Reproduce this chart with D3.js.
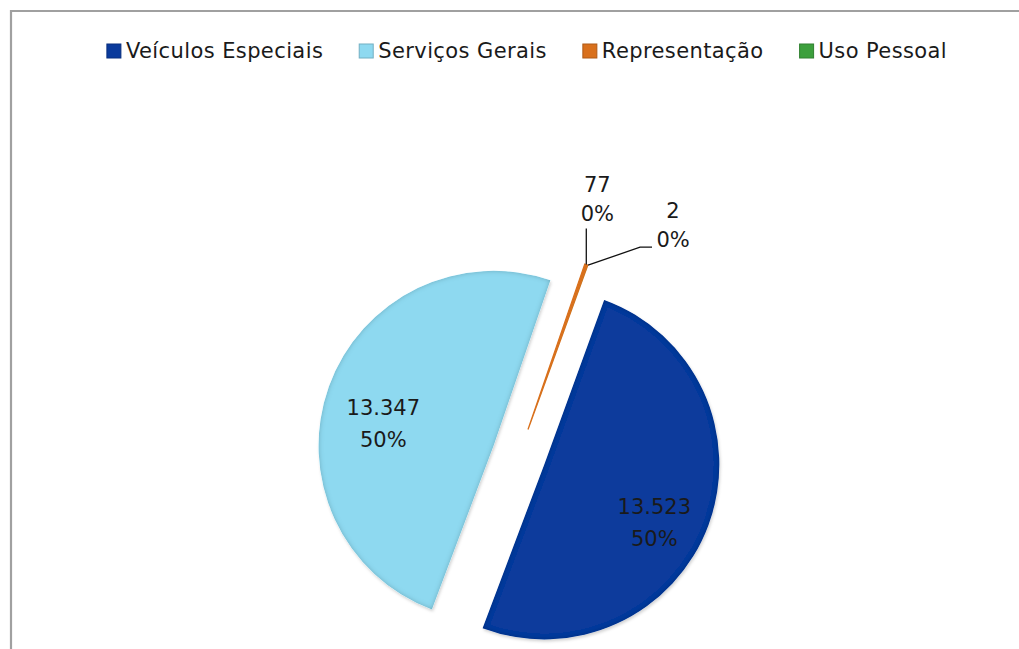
<!DOCTYPE html>
<html>
<head>
<meta charset="utf-8">
<script src="https://cdn.jsdelivr.net/npm/d3@7"></script>
<style>
  html, body { margin: 0; padding: 0; background: #fff; }
  svg { display: block; }
</style>
</head>
<body>
<svg id="chart" width="1019" height="649"></svg>
<script>
// ---- data ----
const categories = ["Veículos Especiais", "Serviços Gerais", "Representação", "Uso Pessoal"];
const values = [13523, 13347, 77, 2];
const colors = ["#0a3a9c", "#8ed9f0", "#d9701c", "#3c9f3c"];

// ---- layout ----
const W = 1019, H = 649;
const cx = 519, cy = 455, R = 175, explode = 27;
const startAngle = 20 * Math.PI / 180;
const fontFamily = "'DejaVu Sans', Verdana, sans-serif";
const fontSize = 21;

const svg = d3.select("#chart");

// border (chart area frame, cropped at right/bottom)
svg.append("path")
  .attr("d", `M11,${H + 5} L11,11 L${W + 5},11`)
  .attr("fill", "none")
  .attr("stroke", "#a0a0a0")
  .attr("stroke-width", 2.2);

// filters
const defs = svg.append("defs");
const f = defs.append("filter").attr("id", "bevel").attr("x", "-10%").attr("y", "-10%").attr("width", "120%").attr("height", "120%");
f.append("feGaussianBlur").attr("in", "SourceAlpha").attr("stdDeviation", 2.5).attr("result", "blur");
f.append("feComposite").attr("in", "SourceAlpha").attr("in2", "blur").attr("operator", "arithmetic")
  .attr("k2", 1).attr("k3", -1).attr("result", "edge");
f.append("feFlood").attr("flood-color", "#000").attr("flood-opacity", 0.45).attr("result", "col");
f.append("feComposite").attr("in", "col").attr("in2", "edge").attr("operator", "in").attr("result", "shadow");
f.append("feGaussianBlur").attr("in", "SourceAlpha").attr("stdDeviation", 1.5).attr("result", "ob");
f.append("feOffset").attr("in", "ob").attr("dx", 1).attr("dy", 2).attr("result", "obo");
f.append("feFlood").attr("flood-color", "#000").attr("flood-opacity", 0.18).attr("result", "col2");
f.append("feComposite").attr("in", "col2").attr("in2", "obo").attr("operator", "in").attr("result", "drop");
const m = f.append("feMerge");
m.append("feMergeNode").attr("in", "drop");
m.append("feMergeNode").attr("in", "SourceGraphic");
m.append("feMergeNode").attr("in", "shadow");

// pie
const pie = d3.pie().sort(null).value(d => d.value)
  .startAngle(startAngle).endAngle(startAngle + 2 * Math.PI);
const data = categories.map((c, i) => ({ name: c, value: values[i], color: colors[i] }));
const arcs = pie(data);
const arc = d3.arc().innerRadius(0).outerRadius(R);
const total = d3.sum(values);

const loc = d3.formatLocale({ decimal: ",", thousands: ".", grouping: [3], currency: ["R$", ""] });
const fmtVal = loc.format(",d");
const fmtPct = d3.format(".0%");

function offset(a, dist) {
  const mid = (a.startAngle + a.endAngle) / 2;
  return [Math.sin(mid) * dist, -Math.cos(mid) * dist];
}

const g = svg.append("g").attr("transform", `translate(${cx},${cy})`);

g.selectAll("path.slice").data(arcs).enter().append("path")
  .attr("class", "slice")
  .attr("d", d => arc(d))
  .attr("transform", d => { const [x, y] = offset(d, explode); return `translate(${x},${y})`; })
  .attr("fill", d => d.data.color)
  .attr("stroke", d => {
    const a = d.endAngle - d.startAngle;
    return (a < 0.05 && a > 0.005) ? d.data.color : "none";
  })
  .attr("stroke-width", 1.3)
  .attr("filter", d => (d.endAngle - d.startAngle) < 0.05 ? null : "url(#bevel)");

// labels
const textStyle = sel => sel.attr("font-family", fontFamily).attr("font-size", fontSize)
  .attr("fill", "#1a1a1a").attr("text-anchor", "middle");

const lineGap = 32;
arcs.forEach((d, i) => {
  const big = (d.endAngle - d.startAngle) > 0.3;
  const lines = [fmtVal(d.data.value), fmtPct(d.data.value / total)];
  if (big) {
    const [ox, oy] = offset(d, explode);
    const [lx, ly] = offset(d, R * 0.67);
    const x = ox + lx, y = oy + ly + 9;
    lines.forEach((t, k) => {
      g.append("text").call(textStyle).attr("x", x).attr("y", y + k * lineGap).text(t);
    });
  } else {
    const [px, py] = offset(d, explode + R);
    let pts, tx, ty;
    if (i === 2) {
      pts = [[px, py], [px, py - 36]];
      tx = px + 11; ty = py - 73;
    } else {
      pts = [[px, py], [px + 52, py - 18], [px + 64, py - 18]];
      tx = px + 85; ty = py - 47;
    }
    g.append("path").attr("d", d3.line()(pts)).attr("fill", "none")
      .attr("stroke", "#111").attr("stroke-width", 1.3);
    lines.forEach((t, k) => {
      g.append("text").call(textStyle).attr("x", tx).attr("y", ty + k * 29).text(t);
    });
  }
});

// legend
const legend = svg.append("g");
let xPos = 0;
categories.forEach((c, i) => {
  const it = legend.append("g");
  it.append("rect").attr("x", 0).attr("y", -7).attr("width", 14).attr("height", 14)
    .attr("fill", colors[i]).attr("stroke", d3.color(colors[i]).darker(0.6)).attr("stroke-width", 1);
  const t = it.append("text").attr("x", 19).attr("y", 7)
    .attr("font-family", fontFamily).attr("font-size", fontSize)
    .attr("letter-spacing", 0.4).attr("fill", "#1a1a1a").text(c);
  const w = 19 + t.node().getComputedTextLength();
  it.attr("transform", `translate(${xPos},0)`);
  xPos += w + 36;
});
const totalW = xPos - 36;
legend.attr("transform", `translate(${527 - totalW / 2},51)`);
</script>
</body>
</html>
